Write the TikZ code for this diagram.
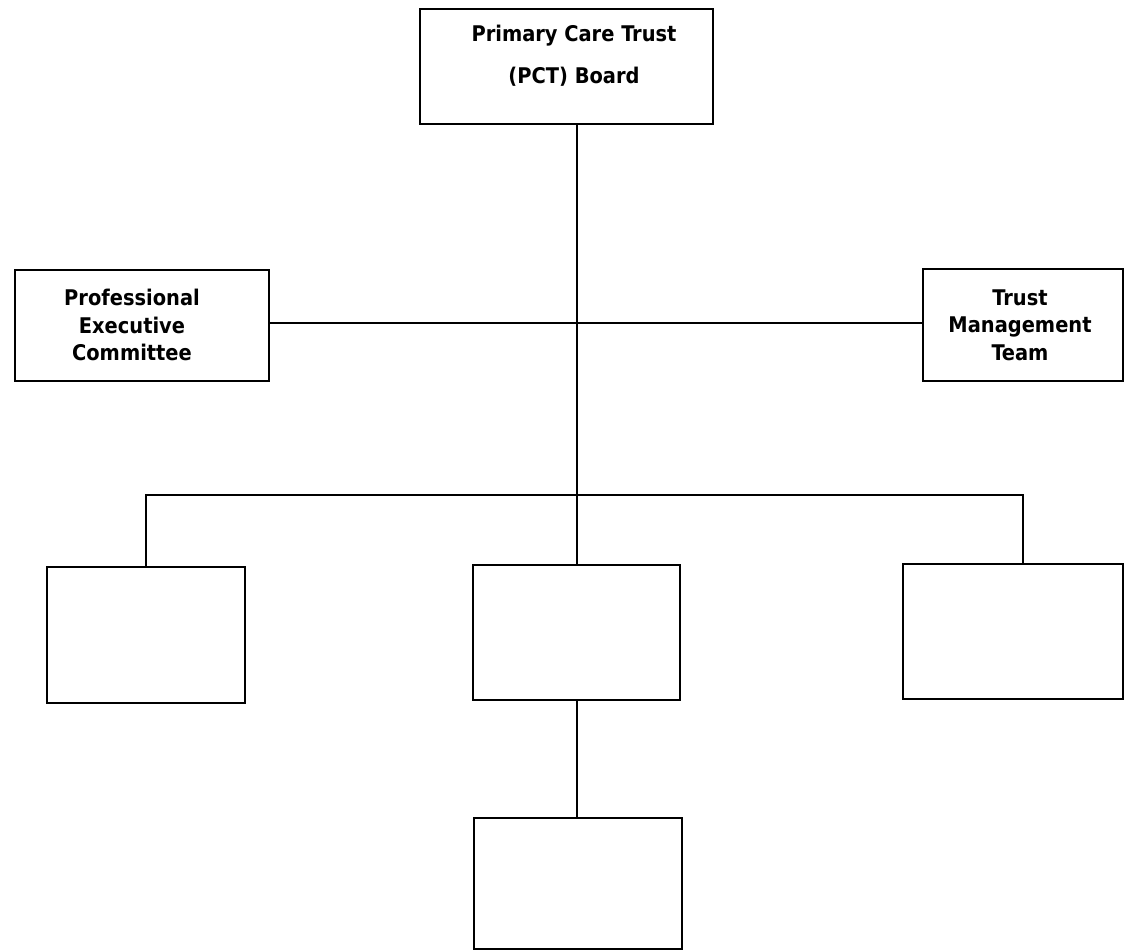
\documentclass[tikz,border=0pt]{standalone}
\usepackage{fontspec}
\setmainfont{DejaVu Sans Condensed}
\usetikzlibrary{positioning}

\begin{document}
\begin{tikzpicture}[
        x=0.5pt, y=-0.5pt,
        box/.style      = {rectangle, draw, line width=1pt, inner sep=0pt},
        boxtext/.style  = {align=center, inner sep=0pt,
                           font=\bfseries\fontsize{10.8}{13.8}\selectfont},
        line/.style     = {draw, line width=0.8pt}
    ]
        \useasboundingbox (0,0) rectangle (1124,951);

        % boxes
        \node [box, minimum width=146.5pt, minimum height=57.5pt] (pct)  at (566.5,66.5) {};
        \node [box, minimum width=127pt,   minimum height=55.5pt] (pec)  at (142,325.5)  {};
        \node [box, minimum width=100pt,   minimum height=56pt]   (tmt)  at (1023,325)    {};
        \node [box, minimum width=99pt,    minimum height=68pt]   (boxL) at (146,635)     {};
        \node [box, minimum width=103.5pt, minimum height=67.5pt] (boxM) at (576.5,632.5) {};
        \node [box, minimum width=110pt,   minimum height=67.5pt] (boxR) at (1013,631.5)  {};
        \node [box, minimum width=104pt,   minimum height=65.5pt] (boxB) at (578,883.5)   {};

        % texts
        \node [boxtext, font=\bfseries\fontsize{10.8}{21}\selectfont] (pcttext) at (574,56)
              {Primary Care Trust\\(PCT) Board};
        \node [boxtext] (pectext) at (132,325) {Professional\\Executive\\Committee};
        \node [boxtext] (tmttext) at (1020,325) {Trust\\Management\\Team};

        % lines
        \coordinate (bus)     at (577,495);
        \coordinate (rbranch) at (1023,495);
        \path [line] (bus |- pct.south) -- (bus |- boxM.north);
        \path [line] (pec.east |- 0,323) -- (tmt.west |- 0,323);
        \path [line] (boxL.north) |- (bus) -- (rbranch) -- (rbranch |- boxR.north);
        \path [line] (boxM.south -| bus) -- (boxB.north -| bus);
\end{tikzpicture}
\end{document}
